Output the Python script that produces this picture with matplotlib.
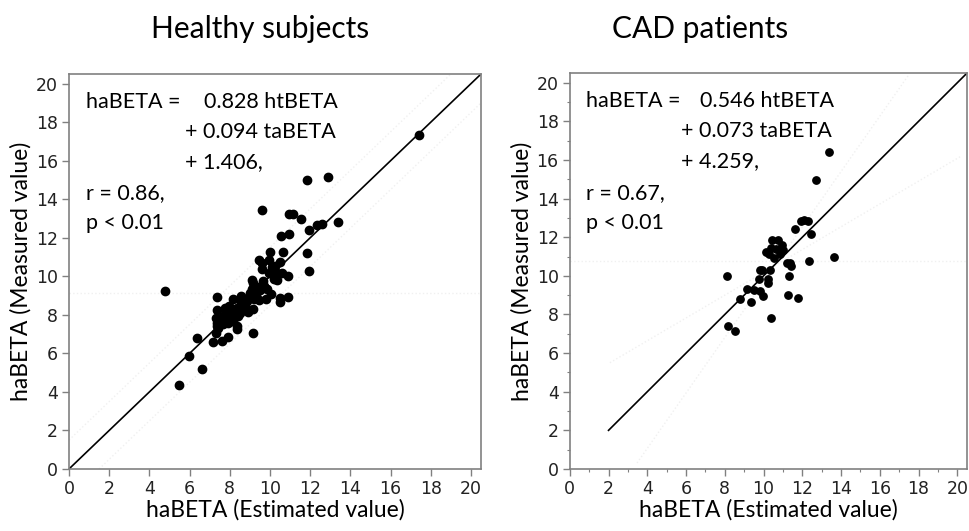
import numpy as np
import matplotlib.pyplot as plt
from matplotlib.ticker import MultipleLocator

# healthy subjects: estimated (x) vs measured (y)
healthy_est = [17.41, 11.86, 12.87, 9.62, 10.93, 11.16, 11.56, 13.38, 12.32, 12.59,
               11.94, 10.53, 10.96, 4.78, 9.98, 10.66, 11.82, 11.92, 9.47, 9.62,
               9.97, 9.59, 10.08, 10.50, 10.25, 10.60, 10.89, 10.18, 10.33, 9.10,
               9.14, 9.64, 9.72, 9.34, 10.07, 10.52, 10.50, 10.90, 9.02, 8.95,
               9.22, 9.44, 9.79, 8.54, 8.51, 8.18, 7.36, 7.35, 7.76, 7.94,
               8.76, 9.17, 8.92, 8.34, 8.51, 8.26, 8.01, 7.84, 7.60, 7.31,
               7.38, 7.31, 7.68, 7.93, 8.34, 8.38, 9.14, 7.89, 7.63, 7.15,
               6.35, 5.99, 6.62, 5.47, 7.43, 8.09, 8.59, 8.84, 9.50, 9.84,
               9.09, 7.81, 8.18, 7.64, 8.42, 8.76, 9.97, 9.34, 10.33, 7.35]
healthy_meas = [17.35, 15.01, 15.17, 13.42, 13.25, 13.22, 12.95, 12.83, 12.67, 12.72,
                12.42, 12.10, 12.19, 9.25, 11.24, 11.24, 11.19, 10.30, 10.84, 10.69,
                10.83, 10.37, 10.47, 10.76, 10.56, 10.19, 10.00, 9.88, 9.79, 9.81,
                9.64, 9.76, 9.50, 9.42, 9.10, 8.90, 8.68, 8.95, 9.12, 8.95,
                8.84, 8.78, 8.81, 8.98, 8.77, 8.81, 8.95, 8.26, 8.38, 8.47,
                8.50, 8.29, 8.15, 8.38, 8.12, 8.12, 7.95, 7.86, 7.69, 7.86,
                7.42, 7.08, 7.51, 7.60, 7.42, 7.25, 7.06, 6.87, 6.64, 6.59,
                6.82, 5.84, 5.19, 4.36, 7.34, 8.21, 8.47, 8.73, 9.29, 9.33,
                9.33, 8.12, 7.69, 7.95, 7.95, 8.29, 10.19, 9.17, 10.19, 7.60]

# CAD patients
cad_est = [13.37, 12.71, 11.64, 11.92, 12.09, 12.28, 12.44, 13.65, 10.45, 10.74,
           10.97, 11.02, 10.62, 10.40, 10.10, 10.26, 10.83, 10.54, 11.19, 11.36,
           11.40, 12.35, 10.33, 9.84, 9.93, 11.30, 8.13, 9.76, 10.24, 10.22,
           9.15, 9.50, 9.81, 11.24, 11.80, 9.96, 8.76, 9.33, 10.40, 8.17, 8.51]
cad_meas = [16.42, 14.96, 12.42, 12.84, 12.89, 12.84, 12.17, 10.99, 11.83, 11.83,
            11.60, 11.34, 11.41, 11.46, 11.24, 11.11, 11.11, 10.90, 10.64, 10.68,
            10.51, 10.77, 10.30, 10.30, 10.30, 9.98, 10.01, 9.81, 9.81, 9.64,
            9.31, 9.26, 9.20, 9.03, 8.84, 8.93, 8.81, 8.67, 7.84, 7.40, 7.14]

# reference lines (x0, x1, y0, y1)
healthy_line = (0, 20.5, 0, 20.5)
cad_line = (2, 20.5, 2, 20.5)
healthy_bands = [(0, 19, 1.5, 20.5), (1.5, 20.5, 0, 19)]
healthy_mean = 9.15
cad_bands = [(3.47, 17.46, 0.31, 20.36), (2.07, 20.2, 5.5, 16.2)]
cad_mean = 10.75

healthy_txt = ["0.828 htBETA", "+ 0.094 taBETA", "+ 1.406,", "r = 0.86,", "p < 0.01"]
cad_txt = ["0.546 htBETA", "+ 0.073 taBETA", "+ 4.259,", "r = 0.67,", "p < 0.01"]

txtfont = 'Lato'

fig = plt.figure(figsize=(9.69, 5.31), dpi=100)
ax1 = fig.add_axes([0.0712, 0.1168, 0.4252, 0.7438])
ax2 = fig.add_axes([0.588, 0.1168, 0.410, 0.7457])


def setup(ax, minor):
    ax.set_xlim(0, 20.5)
    ax.set_ylim(0, 20.5)
    ax.xaxis.set_major_locator(MultipleLocator(2))
    ax.yaxis.set_major_locator(MultipleLocator(2))
    if minor:
        ax.xaxis.set_minor_locator(MultipleLocator(1))
        ax.yaxis.set_minor_locator(MultipleLocator(1))
    for s in ax.spines.values():
        s.set_color('#808080')
        s.set_linewidth(1.2)
    ax.tick_params(which='major', length=5, width=1, color='#808080',
                   labelsize=12.5, labelcolor='#222222', pad=3)
    ax.tick_params(which='minor', length=2.5, width=0.8, color='#808080')
    ax.set_xlabel("haBETA (Estimated value)", fontsize=16.5, family=txtfont, labelpad=1)
    ax.set_ylabel("haBETA (Measured value)", fontsize=16.5, family=txtfont, labelpad=3)


def panel(ax, est, meas, line, bands, mean, txt, size, minor):
    setup(ax, minor)
    for b in bands:
        ax.plot(b[:2], b[2:], ls=':', color='#f0f0f0', lw=1)
    ax.axhline(mean, ls=':', color='#f0f0f0', lw=1)
    ax.plot(line[:2], line[2:], color='black', lw=1.2)
    ax.scatter(est, meas, s=size, color='black', zorder=3)
    kw = dict(fontsize=15.5, family=txtfont, va='center', ha='left')
    ax.text(0.85, 19.05, "haBETA =", **kw)
    ax.text(6.7, 19.05, txt[0], **kw)
    ax.text(5.75, 17.5, txt[1], **kw)
    ax.text(5.75, 15.95, txt[2], **kw)
    ax.text(0.85, 14.3, txt[3], **kw)
    ax.text(0.85, 12.75, txt[4], **kw)


panel(ax1, healthy_est, healthy_meas, healthy_line, healthy_bands, healthy_mean,
      healthy_txt, 36, False)
panel(ax2, cad_est, cad_meas, cad_line, cad_bands, cad_mean, cad_txt, 28, True)

fig.text(260 / 969, 1 - 29 / 531, "Healthy subjects", fontsize=21.5, family=txtfont,
         ha='center', va='center')
fig.text(700 / 969, 1 - 29 / 531, "CAD patients", fontsize=21.5, family=txtfont,
         ha='center', va='center')

fig.savefig("out.png", dpi=100)
